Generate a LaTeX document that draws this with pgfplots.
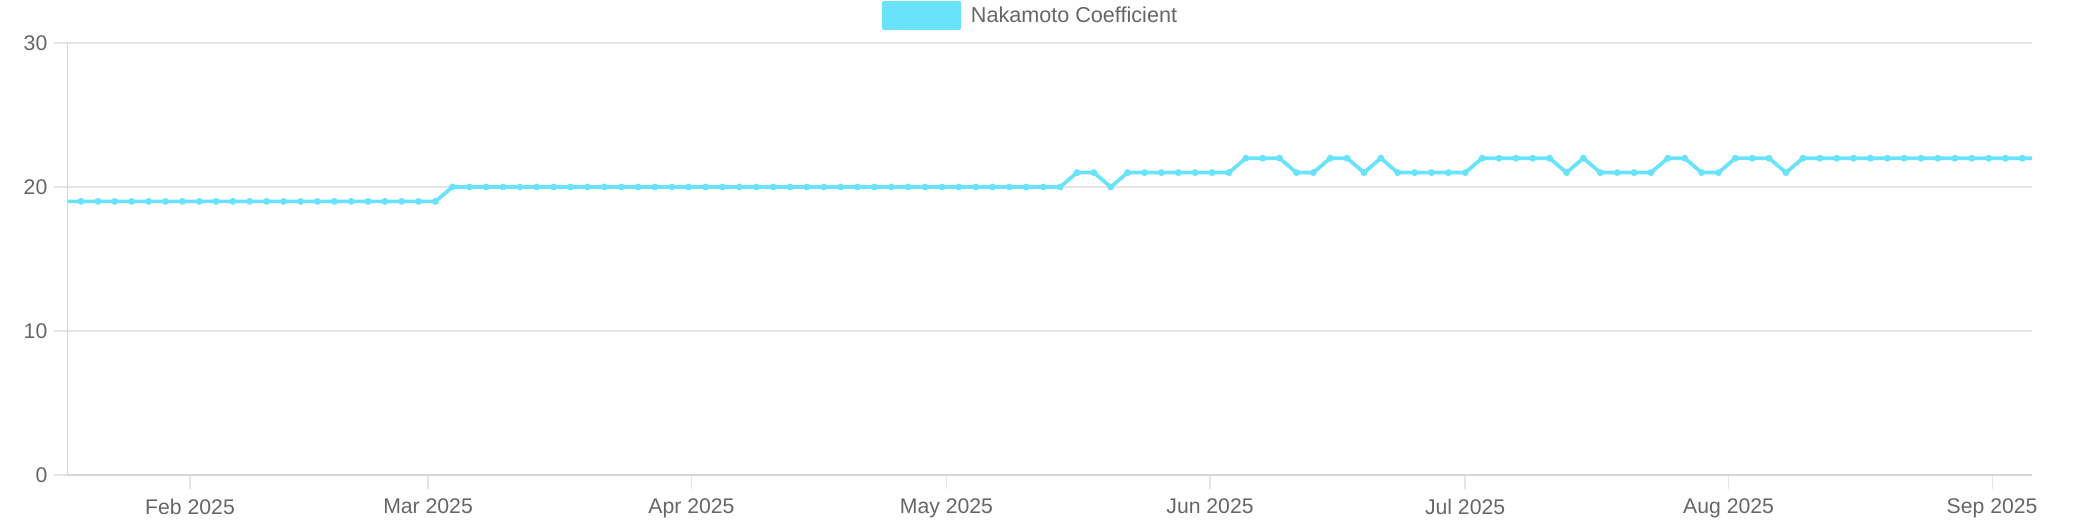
\documentclass[border=0pt]{standalone}
\usepackage{fontspec}
\setmainfont{Liberation Sans}
\usepackage{pgfplots}
\pgfplotsset{compat=1.18}

\definecolor{nakamoto}{RGB}{104,227,249}
\definecolor{gridgray}{RGB}{229,229,229}
\definecolor{axisgray}{RGB}{214,214,214}
\definecolor{labelgray}{RGB}{102,102,102}

\begin{document}
\begin{tikzpicture}
\useasboundingbox (0,0) rectangle (1037pt,265pt);
% x = sample index (one sample about every 2 days), months placed as ticks
\begin{axis}[
  at={(33.85pt,27.5pt)}, anchor=south west,
  scale only axis,
  width=982.2pt, height=216pt,
  xmin=-0.79, xmax=115.58,
  ymin=0, ymax=30,
  ytick={0,10,20,30},
  xtick={6.457,20.557,36.16,51.27,66.88,81.99,97.60,113.21},
  xticklabels={Feb 2025,Mar 2025,Apr 2025,May 2025,Jun 2025,Jul 2025,Aug 2025,Sep 2025},
  axis x line*=bottom, axis y line*=left,
  axis line style={axisgray, line width=0.6pt, -},
  ymajorgrids, grid style={gridgray, line width=0.6pt},
  tick align=outside, major tick length=7pt,
  tick style={gridgray, line width=0.6pt},
  /pgf/number format/assume math mode=true,
  tick label style={font=\fontsize{10.6}{12}\selectfont, text=labelgray},
  yticklabel style={inner sep=0pt, xshift=-3pt},
  xticklabel style={inner sep=0pt, yshift=-4.8pt},
  legend style={at={(0.4896,1)}, anchor=center, yshift=13.6pt,
    draw=none, fill=none, inner sep=0pt,
    font=\fontsize{10.8}{12}\selectfont, text=labelgray,
    nodes={inner sep=0pt}},
  legend image code/.code={%
    \fill[nakamoto] (0pt,-6.25pt) rectangle (37.8pt,6.25pt);
    \path (42.7pt,0pt);},
]
\addplot[color=nakamoto, line width=1.85pt, line join=round, mark=*, mark size=1.5pt,
  mark options={fill=nakamoto, draw=nakamoto, line width=0.4pt}] coordinates {
  (-1,19) (0,19) (1,19) (2,19) (3,19) (4,19) (5,19) (6,19) (7,19) (8,19) (9,19) (10,19)
  (11,19) (12,19) (13,19) (14,19) (15,19) (16,19) (17,19) (18,19) (19,19) (20,19) (21,19)
  (22,20) (23,20) (24,20) (25,20) (26,20) (27,20) (28,20) (29,20) (30,20) (31,20)
  (32,20) (33,20) (34,20) (35,20) (36,20) (37,20) (38,20) (39,20) (40,20) (41,20)
  (42,20) (43,20) (44,20) (45,20) (46,20) (47,20) (48,20) (49,20) (50,20) (51,20)
  (52,20) (53,20) (54,20) (55,20) (56,20) (57,20) (58,20)
  (59,21) (60,21) (61,20) (62,21) (63,21) (64,21) (65,21) (66,21) (67,21) (68,21)
  (69,22) (70,22) (71,22) (72,21) (73,21) (74,22) (75,22) (76,21) (77,22)
  (78,21) (79,21) (80,21) (81,21) (82,21)
  (83,22) (84,22) (85,22) (86,22) (87,22) (88,21) (89,22)
  (90,21) (91,21) (92,21) (93,21) (94,22) (95,22) (96,21) (97,21)
  (98,22) (99,22) (100,22) (101,21)
  (102,22) (103,22) (104,22) (105,22) (106,22) (107,22) (108,22) (109,22)
  (110,22) (111,22) (112,22) (113,22) (114,22) (115,22) (116,22)
};
\addlegendentry{Nakamoto Coefficient}
\end{axis}
\end{tikzpicture}
\end{document}
